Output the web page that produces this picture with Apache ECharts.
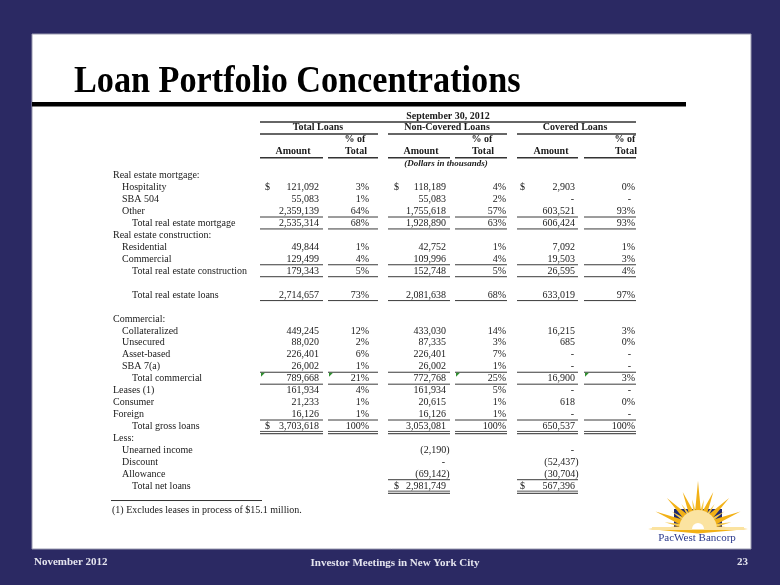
<!DOCTYPE html>
<html><head><meta charset="utf-8">
<script src="https://cdn.jsdelivr.net/npm/echarts@6/dist/echarts.min.js"></script>
<style>html,body{margin:0;padding:0;background:#2b2963}#c{width:780px;height:585px}</style>
</head><body><div id="c"></div>
<script>
// ---------------- DATA ----------------
const titleText = 'Loan Portfolio Concentrations';
const headerDate = 'September 30, 2012';
const groupHeaders = ['Total Loans', 'Non-Covered Loans', 'Covered Loans'];
const subHeaderTop = '% of';
const subHeaderAmount = 'Amount';
const subHeaderPct = 'Total';
const unitsNote = '(Dollars in thousands)';
const footnote = '(1) Excludes leases in process of $15.1 million.';
const footerLeft = 'November 2012';
const footerCenter = 'Investor Meetings in New York City';
const pageNumber = '23';
const logoText = 'PacWest Bancorp';

const rowLabels = ['Real estate mortgage:', 'Hospitality', 'SBA 504', 'Other', 'Total real estate mortgage',
  'Real estate construction:', 'Residential', 'Commercial', 'Total real estate construction', '',
  'Total real estate loans', '', 'Commercial:', 'Collateralized', 'Unsecured', 'Asset-based', 'SBA 7(a)',
  'Total commercial', 'Leases (1)', 'Consumer', 'Foreign', 'Total gross loans', 'Less:',
  'Unearned income', 'Discount', 'Allowance', 'Total net loans'];

const totalAmount = [null, 121092, 55083, 2359139, 2535314, null, 49844, 129499, 179343, null, 2714657, null, null,
  449245, 88020, 226401, 26002, 789668, 161934, 21233, 16126, 3703618, null, null, null, null, null];
const totalPct = [null, 3, 1, 64, 68, null, 1, 4, 5, null, 73, null, null,
  12, 2, 6, 1, 21, 4, 1, 1, 100, null, null, null, null, null];
const nonCoveredAmount = [null, 118189, 55083, 1755618, 1928890, null, 42752, 109996, 152748, null, 2081638, null, null,
  433030, 87335, 226401, 26002, 772768, 161934, 20615, 16126, 3053081, null, -2190, 0, -69142, 2981749];
const nonCoveredPct = [null, 4, 2, 57, 63, null, 1, 4, 5, null, 68, null, null,
  14, 3, 7, 1, 25, 5, 1, 1, 100, null, null, null, null, null];
const coveredAmount = [null, 2903, 0, 603521, 606424, null, 7092, 19503, 26595, null, 633019, null, null,
  16215, 685, 0, 0, 16900, 0, 618, 0, 650537, null, 0, -52437, -30704, 567396];
const coveredPct = [null, 0, 0, 93, 93, null, 1, 3, 4, null, 97, null, null,
  3, 0, 0, 0, 3, 0, 0, 0, 100, null, null, null, null, null];

// [bodyRow, group] cells carrying a "$" sign
const dollarCells = [[1, 0], [1, 1], [1, 2], [21, 0], [26, 1], [26, 2]];
// rows followed by a single rule (all columns) / double rule
const singleRuleRows = [3, 4, 7, 8, 10, 16, 17, 20];
const doubleRuleRows = [21];
// net-loan block rules (amount columns of groups 1 and 2 only)
const netSingleRuleRows = [25];
const netDoubleRuleRows = [26];
// cells with spreadsheet indicator marks: [bodyRow, group, isPct]
const flagCells = [[17, 0, 0], [17, 0, 1], [17, 1, 1], [17, 2, 1]];

// ---------------- LAYOUT ----------------
const HEAD = 5;                 // header rows before body
const labelX = [113, 122, 132];
const labelLevel = [0, 1, 1, 1, 2, 0, 1, 1, 2, 0, 2, 0, 0, 1, 1, 1, 1, 2, 0, 0, 0, 2, 0, 1, 1, 1, 2];
const cols = [
  {amtR: 319, pctR: 369, dollarX: 265, amt: [260, 323], pct: [328, 378], groupC: 318, pctHeadC: 355, amtHeadC: 293},
  {amtR: 446, pctR: 506, dollarX: 394, amt: [388, 450], pct: [455, 507], groupC: 447, pctHeadC: 482, amtHeadC: 421},
  {amtR: 575, pctR: 635, dollarX: 520, amt: [517, 578], pct: [584, 636], groupC: 575, pctHeadC: 625, amtHeadC: 551}
];
const SERIF = '"Liberation Serif", "Times New Roman", serif';
const fBody = '10px ' + SERIF;
const fHead = 'bold 10px ' + SERIF;
const INK = '#1a1a1a';

const amounts = [totalAmount, nonCoveredAmount, coveredAmount];
const pcts = [totalPct, nonCoveredPct, coveredPct];

function fmtAmt(v) {
  if (v === 0) return '-';
  const s = Math.abs(v).toLocaleString('en-US');
  return v < 0 ? '(' + s + ')' : s;
}

const items = [];
function T(x, row, text, align, font, extra) {
  items.push(Object.assign({k: 't', x, row, text, align, font, fill: INK}, extra || {}));
}
function L(x1, x2, row, dy, w, color) {
  items.push({k: 'l', x: x1, x2, row, dy, w, color});
}

// headers
T((cols[0].amt[0] + cols[2].pct[1]) / 2, 0, headerDate, 'center', fHead);
L(cols[0].amt[0], cols[2].pct[1], 0, 6, 1.5, '#333');
cols.forEach((c, g) => {
  T(c.groupC, 1, groupHeaders[g], 'center', fHead);
  L(c.amt[0], c.pct[1], 1, 6, 1.5, '#333');
  T(c.pctHeadC, 2, subHeaderTop, 'center', fHead);
  T(c.amtHeadC, 3, subHeaderAmount, 'center', fHead);
  T(c.pctHeadC + 1, 3, subHeaderPct, 'center', fHead);
  L(c.amt[0], c.amt[1], 3, 6, 1.5, '#333');
  L(c.pct[0], c.pct[1], 3, 6, 1.5, '#333');
});
T(446, 4, unitsNote, 'center', 'italic bold 9px ' + SERIF);

// body
rowLabels.forEach((lab, i) => {
  const row = HEAD + i;
  if (lab) T(labelX[labelLevel[i]], row, lab, 'left', fBody);
  cols.forEach((c, g) => {
    const a = amounts[g][i];
    if (a !== null && a !== undefined) {
      const x = a < 0 ? c.amtR + 3.5 : (a === 0 ? c.amtR - 1 : c.amtR);
      T(x, row, fmtAmt(a), 'right', fBody);
    }
    const p = pcts[g][i];
    if (p !== null && p !== undefined) {
      if (a === 0) T(c.pctR - 4, row, '-', 'right', fBody);
      else T(c.pctR, row, p + '%', 'right', fBody);
    }
  });
});
dollarCells.forEach(([i, g]) => T(cols[g].dollarX, HEAD + i, '$', 'left', fBody));

// rules
singleRuleRows.forEach(i => cols.forEach(c => {
  L(c.amt[0], c.amt[1], HEAD + i, 5.5, 1, '#3a3a3a');
  L(c.pct[0], c.pct[1], HEAD + i, 5.5, 1, '#3a3a3a');
}));
doubleRuleRows.forEach(i => cols.forEach(c => {
  [c.amt, c.pct].forEach(s => { L(s[0], s[1], HEAD + i, 5, 1, '#555'); L(s[0], s[1], HEAD + i, 7.2, 1.2, '#555'); });
}));
netSingleRuleRows.forEach(i => [cols[1], cols[2]].forEach(c => L(c.amt[0], c.amt[1], HEAD + i, 5.5, 1, '#3a3a3a')));
netDoubleRuleRows.forEach(i => [cols[1], cols[2]].forEach(c => {
  L(c.amt[0], c.amt[1], HEAD + i, 5, 1, '#555'); L(c.amt[0], c.amt[1], HEAD + i, 7.2, 1.2, '#555');
}));
// flag marks
flagCells.forEach(([i, g, isPct]) => {
  const s = isPct ? cols[g].pct : cols[g].amt;
  items.push({k: 'f', x: s[0] + 1, row: HEAD + i, dy: -6});
});

// footnote
const FOOT_ROW = 33;
L(111, 262, FOOT_ROW, -9.5, 1, '#333');
T(112, FOOT_ROW, footnote, 'left', fBody);

function renderItem(params, api) {
  const it = items[api.value(2)];
  const p = api.coord([api.value(0), api.value(1)]);
  if (it.k === 't') {
    return {type: 'text', x: p[0], y: p[1] + (it.dy || 0),
      style: {text: it.text, font: it.font, fill: it.fill, align: it.align, verticalAlign: 'middle'}};
  }
  if (it.k === 'l') {
    const p2 = api.coord([it.x2, api.value(1)]);
    const y = p[1] + it.dy;
    return {type: 'line', shape: {x1: p[0], y1: y, x2: p2[0], y2: y}, style: {stroke: it.color, lineWidth: it.w}};
  }
  const y = p[1] + it.dy;
  return {type: 'polygon', shape: {points: [[p[0], y], [p[0] + 4, y], [p[0], y + 4]]}, style: {fill: '#2f8f2f'}};
}

// ---------------- LOGO (decoration) ----------------
const cx = 698, cy = 529;
const logo = [];
logo.push({type: 'rect', shape: {x: 674, y: 509, width: 48, height: 18}, style: {fill: '#1f2a70'}, z: 10});
const mainRays = [[0, 48], [22.5, 40], [45, 44], [67.5, 46], [90, 50]];
const ray = (ang, len, hw, fill) => {
  const a = ang * Math.PI / 180;
  const dx = Math.sin(a), dy = -Math.cos(a);
  const px = Math.cos(a), py = Math.sin(a);
  return {type: 'polygon', z: 11, shape: {points: [
    [cx + dx * len, cy + dy * len],
    [cx + px * hw, cy + py * hw],
    [cx - px * hw, cy - py * hw]]}, style: {fill}};
};
[[11.25, 30], [33.75, 30], [56.25, 32], [78.75, 34]].forEach(([a, l]) => {
  logo.push(ray(a, l, 3.2, '#f6c94a')); logo.push(ray(-a, l, 3.2, '#f6c94a'));
});
mainRays.forEach(([a, l]) => {
  logo.push(ray(a, l, 4.6, '#f2b116'));
  if (a !== 0) logo.push(ray(-a, l, 4.6, '#f2b116'));
});
logo.push({type: 'sector', z: 12, shape: {cx, cy, r: 19, startAngle: Math.PI, endAngle: 2 * Math.PI}, style: {fill: '#fbe3a0'}});
logo.push({type: 'rect', z: 12, shape: {x: 652, y: cy - 2, width: 92, height: 3}, style: {fill: '#fbe3a0'}});
logo.push({type: 'sector', z: 13, shape: {cx, cy, r: 6, startAngle: Math.PI, endAngle: 2 * Math.PI}, style: {fill: '#ffffff'}});
logo.push({type: 'text', z: 13, x: 697, y: 538, style: {text: logoText, font: '11px ' + SERIF, fill: '#2c3a8c', align: 'center', verticalAlign: 'middle'}});

const chart = echarts.init(document.getElementById('c'), null, {renderer: 'canvas'});
chart.setOption({
  backgroundColor: '#2b2963',
  animation: false,
  grid: {left: 0, right: 0, top: 110, height: 406},
  xAxis: {type: 'value', min: 0, max: 780, show: false},
  yAxis: {type: 'value', min: -0.5, max: 33.5, inverse: true, show: false},
  graphic: [
    {type: 'rect', z: -10, shape: {x: 32, y: 34, width: 719, height: 515}, style: {fill: '#ffffff', stroke: '#9a9ab0', lineWidth: 1}},
    {type: 'text', z: 5, x: 74, y: 82, scaleX: 0.9, style: {text: titleText, font: 'bold 38px ' + SERIF, fill: '#000', align: 'left', verticalAlign: 'middle'}},
    {type: 'rect', z: 5, shape: {x: 32, y: 102, width: 654, height: 4.5}, style: {fill: '#000'}},
    {type: 'text', z: 5, x: 34, y: 562, style: {text: footerLeft, font: 'bold 11px ' + SERIF, fill: '#e4e4ee', align: 'left', verticalAlign: 'middle'}},
    {type: 'text', z: 5, x: 395, y: 563, style: {text: footerCenter, font: 'bold 11px ' + SERIF, fill: '#e4e4ee', align: 'center', verticalAlign: 'middle'}},
    {type: 'text', z: 5, x: 748, y: 562, style: {text: pageNumber, font: 'bold 11px ' + SERIF, fill: '#e4e4ee', align: 'right', verticalAlign: 'middle'}},
    {type: 'group', children: logo}
  ],
  series: [{
    type: 'custom',
    coordinateSystem: 'cartesian2d',
    silent: true,
    clip: false,
    encode: {x: 0, y: 1},
    data: items.map((it, i) => [it.x, it.row, i]),
    renderItem
  }]
});
</script></body></html>
